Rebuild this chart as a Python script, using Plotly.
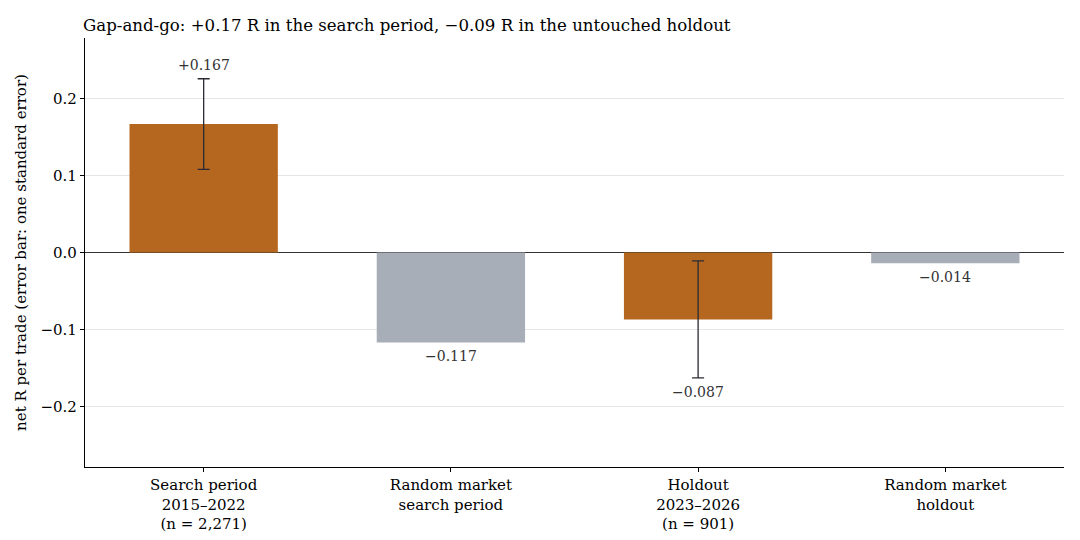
import plotly.graph_objects as go

# data
categories = [
    "Search period<br>2015–2022<br>(n = 2,271)",
    "Random market<br>search period",
    "Holdout<br>2023–2026<br>(n = 901)",
    "Random market<br>holdout",
]
values = [0.167, -0.117, -0.087, -0.014]
std_err = [0.059, None, 0.076, None]
labels = ["+0.167", "−0.117", "−0.087", "−0.014"]
colors = ["#b5661f", "#a8aeb7", "#b5661f", "#a8aeb7"]

font = "DejaVu Serif"
# the page puts the figure 8px in from the top-left corner
off = 8

fig = go.Figure()
fig.add_trace(go.Bar(
    x=categories, y=values, width=0.6,
    marker=dict(color=colors, line=dict(width=0)),
    hoverinfo="skip",
))

# error bars only where a standard error exists
ex = [c for c, s in zip(categories, std_err) if s is not None]
ey = [v for v, s in zip(values, std_err) if s is not None]
es = [s for s in std_err if s is not None]
fig.add_trace(go.Scatter(
    x=ex, y=ey, mode="markers", marker=dict(size=0.1, color="rgba(0,0,0,0)"),
    error_y=dict(type="data", array=es, visible=True, color="#2b2b33",
                 thickness=1.3, width=6),
    hoverinfo="skip",
))

# value labels
for c, v, s, t in zip(categories, values, std_err, labels):
    se = s or 0
    if v >= 0:
        fig.add_annotation(x=c, y=v + se, text=t, showarrow=False,
                           yanchor="bottom", yshift=4,
                           font=dict(family=font, size=14, color="#333333"))
    else:
        fig.add_annotation(x=c, y=v - se, text=t, showarrow=False,
                           yanchor="top", yshift=-4,
                           font=dict(family=font, size=14, color="#333333"))

fig.update_layout(
    width=1080, height=540,
    margin=dict(l=83 - off, r=16 + off, t=38 - off, b=73 + off),
    plot_bgcolor="white", paper_bgcolor="white",
    showlegend=False,
    font=dict(family=font, size=15, color="black"),
    title=dict(text="Gap-and-go: +0.17 R in the search period, −0.09 R in the untouched holdout",
               x=(83 - off) / 1080, xanchor="left", y=1 - (25 - off) / 540, yanchor="middle",
               font=dict(family=font, size=16.6, color="black")),
    bargap=0.4,
)
fig.update_xaxes(
    range=[-0.48, 3.48], showline=True, linecolor="black", linewidth=1.2,
    ticks="outside", ticklen=4, tickcolor="black", showgrid=False,
    tickfont=dict(family=font, size=15),
)
fig.update_yaxes(
    range=[-0.279, 0.279], dtick=0.1, tickformat=".1f",
    showline=True, linecolor="black", linewidth=1.2,
    ticks="outside", ticklen=4, tickcolor="black",
    showgrid=True, gridcolor="#e6e6e6", gridwidth=1,
    zeroline=True, zerolinecolor="#333333", zerolinewidth=1.2,
    title=dict(text="net R per trade (error bar: one standard error)",
               font=dict(family=font, size=15), standoff=10),
    tickfont=dict(family=font, size=15),
)

fig.write_html("out.html")
